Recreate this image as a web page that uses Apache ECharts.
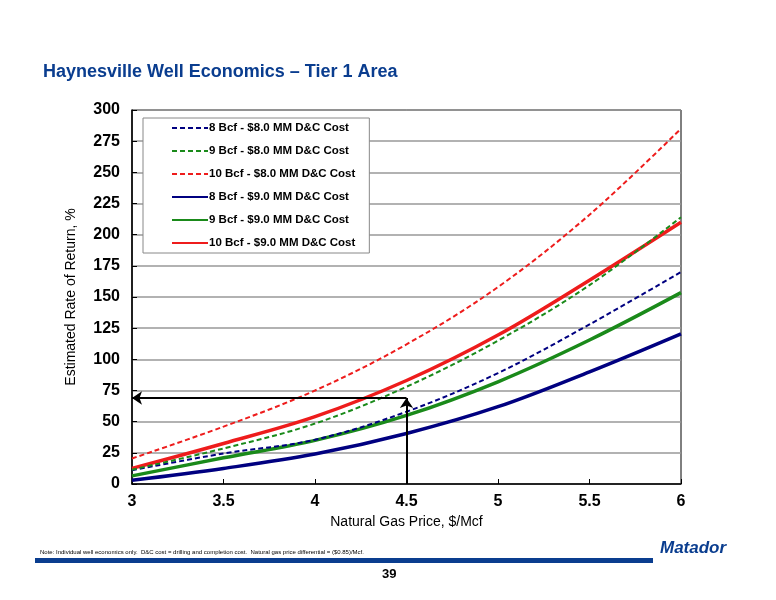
<!DOCTYPE html>
<html>
<head>
<meta charset="utf-8">
<script src="https://cdn.jsdelivr.net/npm/echarts@6/dist/echarts.min.js"></script>
<style>html,body{margin:0;padding:0;background:#fff}#chart{width:776px;height:600px}</style>
</head>
<body>
<div id="chart"></div>
<script>
var prices = [3, 3.5, 4, 4.5, 5, 5.5, 6];
var names = ['8 Bcf - $8.0 MM D&C Cost', '9 Bcf - $8.0 MM D&C Cost', '10 Bcf - $8.0 MM D&C Cost',
	'8 Bcf - $9.0 MM D&C Cost', '9 Bcf - $9.0 MM D&C Cost', '10 Bcf - $9.0 MM D&C Cost'];
var bcf8_cost8 = [11, 24.5, 35.5, 58, 89, 128, 170];
var bcf9_cost8 = [11.5, 28.5, 48.5, 78, 115, 159.5, 214];
var bcf10_cost8 = [20.5, 46, 75, 112, 158, 216, 285];
var bcf8_cost9 = [3, 12.5, 24, 40.5, 62, 90, 120.5];
var bcf9_cost9 = [6.5, 21, 35, 55, 82, 115.5, 153.5];
var bcf10_cost9 = [12.5, 32.5, 54, 83, 119.5, 163.5, 210];
var yTicks = [0, 25, 50, 75, 100, 125, 150, 175, 200, 225, 250, 275, 300];
var arrowPrice = 4.5, arrowIrr = 69;

var colors = ['#000080', '#1a8a1a', '#ee1c1c', '#000080', '#1a8a1a', '#ee1c1c'];
var allData = [bcf8_cost8, bcf9_cost8, bcf10_cost8, bcf8_cost9, bcf9_cost9, bcf10_cost9];

var chart = echarts.init(document.getElementById('chart'));
var series = allData.map(function(vals, i){
	var dashed = i < 3;
	return {
		name: names[i],
		type: 'line',
		smooth: 0.35,
		symbol: 'none',
		z: dashed ? 3 : 2,
		lineStyle: {color: colors[i], width: dashed ? 2 : 3.5, type: dashed ? [5, 3] : 'solid'},
		itemStyle: {color: colors[i]},
		data: prices.map(function(p, k){ return [p, vals[k]]; })
	};
});
series[0].markLine = {
	silent: true,
	symbol: ['none', 'arrow'],
	symbolSize: 10,
	label: {show: false},
	lineStyle: {color: '#000', width: 2, type: 'solid'},
	data: [
		[{coord: [arrowPrice, 0]}, {coord: [arrowPrice, arrowIrr]}],
		[{coord: [arrowPrice, arrowIrr]}, {coord: [3, arrowIrr]}]
	]
};

var option = {
	animation: false,
	textStyle: {fontFamily: 'Liberation Sans, Arial, sans-serif'},
	title: {
		text: 'Haynesville Well Economics – Tier 1 Area',
		left: 38, top: 58,
		textStyle: {color: '#0a3d8f', fontSize: 18, fontWeight: 'bold'}
	},
	legend: {
		orient: 'vertical',
		left: 143, top: 118,
		padding: [4, 14, 4, 28],
		backgroundColor: '#fff',
		borderColor: '#888', borderWidth: 1,
		itemWidth: 36, itemHeight: 10, itemGap: 11,
		itemStyle: {opacity: 0},
		textStyle: {fontSize: 11.5, fontWeight: 'bold', color: '#000', padding: [0, 0, 0, -4]},
		data: names
	},
	grid: {left: 132, right: 95, top: 110, bottom: 116, show: true, borderColor: '#000', borderWidth: 1},
	xAxis: {
		type: 'value', min: 3, max: 6, interval: 0.5,
		name: 'Natural Gas Price, $/Mcf', nameLocation: 'middle', nameGap: 30,
		nameTextStyle: {fontSize: 14, color: '#000'},
		axisLine: {lineStyle: {color: '#000', width: 1.5}},
		axisTick: {show: true, inside: true, length: 5, lineStyle: {color: '#000'}},
		axisLabel: {fontSize: 16, fontWeight: 'bold', color: '#000', margin: 10},
		splitLine: {show: false}
	},
	yAxis: {
		type: 'value', min: 0, max: 300, interval: 25,
		name: 'Estimated Rate of Return, %', nameLocation: 'middle', nameGap: 54,
		nameTextStyle: {fontSize: 14, color: '#000'},
		axisLine: {show: true, lineStyle: {color: '#000', width: 1.5}},
		axisTick: {show: true, inside: true, length: 5, lineStyle: {color: '#000'}},
		axisLabel: {fontSize: 16, fontWeight: 'bold', color: '#000', margin: 12,
			formatter: function(v){ return yTicks.indexOf(v) >= 0 ? String(v) : ''; }},
		splitLine: {lineStyle: {color: '#999', width: 1.5}}
	},
	graphic: [
		{type: 'text', left: 40, top: 549, style: {text: 'Note: Individual well economics only.  D&C cost = drilling and completion cost.  Natural gas price differential = ($0.85)/Mcf.', fontSize: 6, fill: '#000'}},
		{type: 'rect', shape: {x: 35, y: 558, width: 618, height: 5}, style: {fill: '#0a3d8f'}},
		{type: 'text', left: 382, top: 568, style: {text: '39', fontSize: 13, fontWeight: 'bold', fill: '#000'}},
		{type: 'text', left: 660, top: 540, style: {text: 'Matador', fontSize: 17, fontWeight: 'bold', fontStyle: 'italic', fill: '#0a3d8f'}}
	],
	series: series
};
chart.setOption(option);
</script>
</body>
</html>
